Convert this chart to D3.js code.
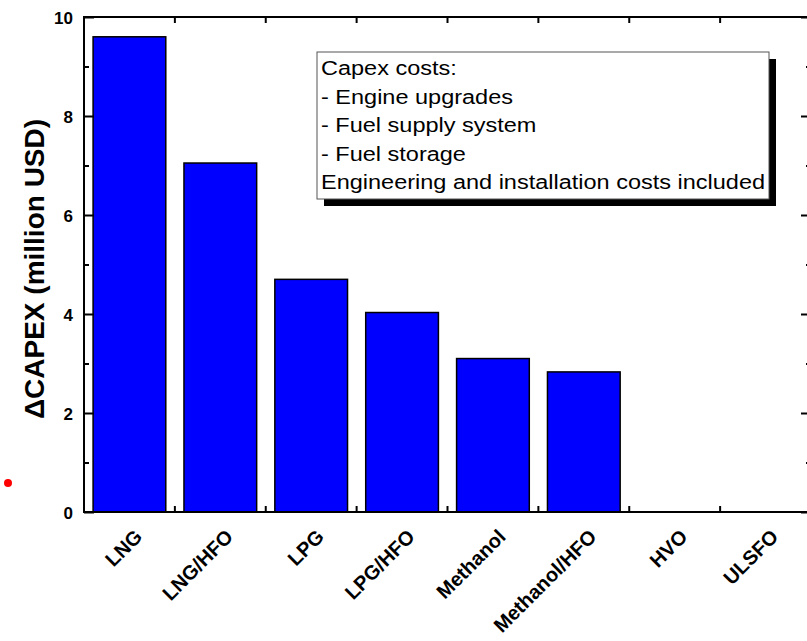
<!DOCTYPE html>
<html><head><meta charset="utf-8">
<script src="https://cdn.jsdelivr.net/npm/d3@7"></script>
<style>
body{margin:0;background:#fff;}
text{font-family:Arial,"Liberation Sans",sans-serif;}
</style></head>
<body>
<svg id="c" width="807" height="641"></svg>
<script>
const categories = ["LNG","LNG/HFO","LPG","LPG/HFO","Methanol","Methanol/HFO","HVO","ULSFO"];
const capex = [9.6, 7.05, 4.7, 4.03, 3.1, 2.83, 0, 0];
const yTicks = [0,2,4,6,8,10];
const yMinorTicks = [1,3,5,7,9];
const legendLines = ["Capex costs:","- Engine upgrades","- Fuel supply system","- Fuel storage","Engineering and installation costs included"];
const yTitle = "\u0394CAPEX (million USD)";

(function(){
const svg = d3.select("#c");
const pL = 84, pR = 811, pT = 17, pB = 512;
const FONT = "Arial, 'Liberation Sans', sans-serif";
const x = d3.scaleBand().domain(categories).range([pL, pR]).paddingInner(0.2).paddingOuter(0.1);
const y = d3.scaleLinear().domain([0,10]).range([pB, pT]);

// bars
svg.selectAll("rect.bar").data(categories).enter().append("rect")
  .attr("class","bar")
  .attr("x", d => x(d))
  .attr("width", x.bandwidth())
  .attr("y", (d,i) => y(capex[i]))
  .attr("height", (d,i) => y(0) - y(capex[i]))
  .attr("fill", "#0000ff")
  .attr("stroke", "#000")
  .attr("stroke-width", 1.5);

const step = x.step();
const bounds = categories.slice(1).map(d => x(d) - step*0.1);

// frame
svg.append("rect").attr("x", pL).attr("y", pT).attr("width", pR-pL).attr("height", pB-pT)
  .attr("fill","none").attr("stroke","#000").attr("stroke-width",2);

// left axis ticks inward
const gL = svg.append("g").attr("transform", `translate(${pL},0)`)
  .call(d3.axisLeft(y).tickValues(yTicks).tickSize(-10).tickPadding(20));
gL.select(".domain").remove();
gL.selectAll("line").attr("stroke-width",2);
gL.selectAll("text").attr("font-size",17).attr("font-weight","bold").attr("fill","#000")
  .attr("font-family",FONT).attr("dx", 9).attr("dy","0.36em");
svg.append("g").attr("transform", `translate(${pL},0)`)
  .call(d3.axisLeft(y).tickValues(yMinorTicks).tickSize(-5).tickFormat(""))
  .call(g => g.select(".domain").remove())
  .selectAll("line").attr("stroke-width",2);
// right axis ticks inward
svg.append("g").attr("transform", `translate(${pR},0)`)
  .call(d3.axisRight(y).tickValues(yTicks).tickSize(-10).tickFormat(""))
  .call(g => g.select(".domain").remove())
  .selectAll("line").attr("stroke-width",2);
svg.append("g").attr("transform", `translate(${pR},0)`)
  .call(d3.axisRight(y).tickValues(yMinorTicks).tickSize(-5).tickFormat(""))
  .call(g => g.select(".domain").remove())
  .selectAll("line").attr("stroke-width",2);

// category boundary ticks top & bottom
svg.selectAll("line.bt").data(bounds).enter().append("line")
  .attr("x1", d=>d).attr("x2", d=>d).attr("y1", pB).attr("y2", pB-6)
  .attr("stroke","#000").attr("stroke-width",2);
svg.selectAll("line.tt").data(bounds).enter().append("line")
  .attr("x1", d=>d).attr("x2", d=>d).attr("y1", pT).attr("y2", pT+6)
  .attr("stroke","#000").attr("stroke-width",2);

// x labels
svg.selectAll("text.xl").data(categories).enter().append("text")
  .attr("transform", d => `translate(${x(d)+x.bandwidth()/2+14},${pB+26}) rotate(-45)`)
  .attr("text-anchor","end")
  .attr("font-size",20).attr("font-weight","bold")
  .text(d => d);

// y title
svg.append("text")
  .attr("transform", `translate(44,${269}) rotate(-90)`)
  .attr("text-anchor","middle")
  .attr("font-size",28).attr("font-weight","bold")
  .text(yTitle);

// legend box with shadow
const lx = 317, ly = 52, lw = 452, lh = 147;
svg.append("rect").attr("x", lx+7).attr("y", ly+7).attr("width", lw).attr("height", lh).attr("fill","#000");
svg.append("rect").attr("x", lx).attr("y", ly).attr("width", lw).attr("height", lh)
  .attr("fill","#fff").attr("stroke","#555").attr("stroke-width",1);
svg.selectAll("text.lg").data(legendLines).enter().append("text")
  .attr("transform", (d,i) => `translate(${lx+4},${ly + 23 + i*28.6}) scale(1.175,1)`)
  .attr("font-size",20).attr("fill","#000")
  .text(d => d);

// red dot
svg.append("circle").attr("cx",8).attr("cy",483).attr("r",4).attr("fill","#ff0000");
})();
</script>
</body></html>
